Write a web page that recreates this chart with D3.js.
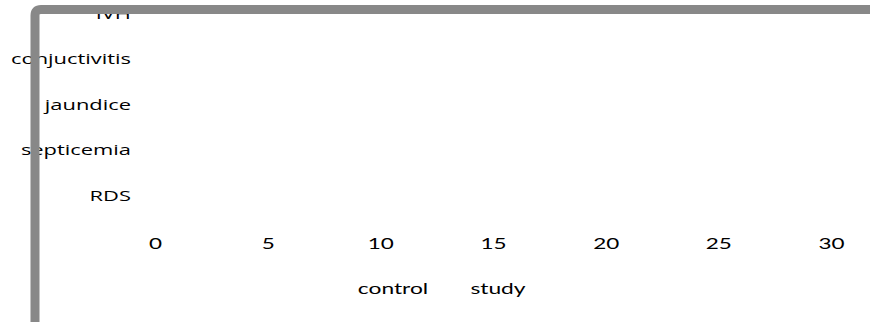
<!DOCTYPE html>
<html>
<head>
<meta charset="utf-8">
<script src="https://cdn.jsdelivr.net/npm/d3@7"></script>
<style>
  html, body { margin: 0; padding: 0; background: #ffffff; }
  svg { display: block; }
</style>
</head>
<body>
<svg id="chart" width="870" height="322"></svg>
<script>
// Complications by group (counts); categories listed bottom to top
const categories = ["RDS", "septicemia", "jaundice", "conjuctivitis", "IVH"];
const controlValues = [0, 0, 0, 0, 0];
const studyValues = [0, 0, 0, 0, 0];
const seriesNames = ["control", "study"];
const xTicks = [0, 5, 10, 15, 20, 25, 30];

const svg = d3.select("#chart");
const W = 870, H = 322;

const x = d3.scaleLinear().domain([0, 30]).range([155, 831]);
const y = d3.scaleBand()
  .domain(categories.slice().reverse())
  .range([-8.75, 218.75])
  .padding(0);
const inner = d3.scaleBand().domain(seriesNames).range([0, y.bandwidth()]).padding(0.1);

const series = seriesNames.map((name, i) => ({
  name,
  values: categories.map((c, j) => ({ cat: c, v: i === 0 ? controlValues[j] : studyValues[j] }))
}));
const colors = d3.scaleOrdinal().domain(seriesNames).range(["#4f81bd", "#c0504d"]);

// Bars
const g = svg.append("g");
g.selectAll("g.series")
  .data(series)
  .join("g")
  .attr("class", "series")
  .attr("fill", d => colors(d.name))
  .selectAll("rect")
  .data(d => d.values.map(v => ({ ...v, name: d.name })))
  .join("rect")
  .attr("x", x(0))
  .attr("y", d => y(d.cat) + inner(d.name))
  .attr("width", d => x(d.v) - x(0))
  .attr("height", inner.bandwidth());

// Category axis (labels only, wide-set lettering)
const yAxis = svg.append("g")
  .attr("transform", "translate(131,0)")
  .call(d3.axisLeft(y).tickSize(0).tickPadding(0));
yAxis.select(".domain").remove();
yAxis.selectAll("text")
  .attr("font-family", "'Open Sans', sans-serif")
  .attr("font-size", 15)
  .attr("fill", "#000")
  .attr("transform", "scale(1.46,1)");

// Value axis (labels only)
const xAxis = svg.append("g")
  .attr("transform", "translate(0,238.5)")
  .call(d3.axisBottom(x).tickValues(xTicks).tickSize(0).tickPadding(0));
xAxis.select(".domain").remove();
xAxis.selectAll("text")
  .attr("font-family", "Lato, 'Open Sans', sans-serif")
  .attr("font-size", 15)
  .attr("fill", "#000")
  .attr("transform", "scale(1.5,1)");

// Legend
const legendX = d3.scalePoint().domain(seriesNames).range([393, 498]);
svg.append("g")
  .selectAll("text")
  .data(seriesNames)
  .join("text")
  .attr("transform", d => `translate(${legendX(d)},294) scale(1.52,1)`)
  .attr("text-anchor", "middle")
  .attr("font-family", "Lato, 'Open Sans', sans-serif")
  .attr("font-size", 15)
  .attr("fill", "#000")
  .text(d => d);

// Outer frame: thick grey border along top and left with rounded corner
const r = 6;
svg.append("path")
  .attr("d", `M35,${H + 5} L35,${9.5 + r} Q35,9.5 ${35 + r},9.5 L${W + 5},9.5`)
  .attr("fill", "none")
  .attr("stroke", "#888888")
  .attr("stroke-width", 9);
</script>
</body>
</html>
